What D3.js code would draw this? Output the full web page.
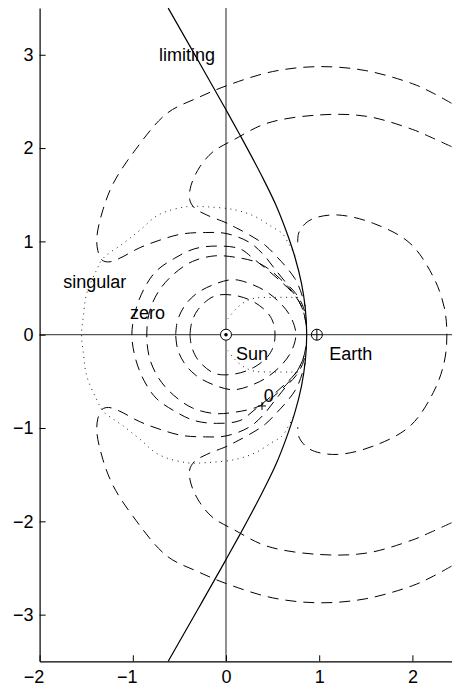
<!DOCTYPE html>
<html>
<head>
<meta charset="utf-8">
<script src="https://cdn.jsdelivr.net/npm/d3@7"></script>
<style>
  html, body { margin: 0; padding: 0; background: #fff; }
  svg { display: block; }
  text { font-family: "Liberation Sans", Arial, Helvetica, sans-serif; }
</style>
</head>
<body>
<svg id="chart" width="452" height="686"></svg>
<script>
// ---------------- data ----------------
const xTicks = [-2, -1, 0, 1, 2];
const yTicks = [-3, -2, -1, 0, 1, 2, 3];

// solid "limiting" curve
const limiting = [[-0.62,3.5],[-0.3,2.94],[0,2.41],[0.15,2.14],[0.40,1.67],[0.54,1.38],[0.65,1.10],[0.74,0.83],[0.81,0.55],[0.85,0.29],[0.866,0],
  [0.85,-0.29],[0.81,-0.55],[0.74,-0.83],[0.65,-1.10],[0.54,-1.38],[0.40,-1.67],[0.15,-2.14],[0,-2.41],[-0.3,-2.94],[-0.62,-3.5]];

// dotted "singular" curve
const singular = [[0.74,0.85],[0.67,0.98],[0.6,1.087],[0.49,1.157],[0.315,1.265],[0.1,1.337],[-0.2,1.37],[-0.42,1.372],[-0.726,1.283],[-0.923,1.12],[-1.10,0.98],[-1.317,0.82],[-1.39,0.69],[-1.495,0.44],[-1.53,0.2],[-1.55,0],
  [-1.53,-0.2],[-1.495,-0.44],[-1.39,-0.69],[-1.317,-0.82],[-1.10,-0.98],[-0.923,-1.12],[-0.726,-1.283],[-0.42,-1.372],[-0.2,-1.37],[0.1,-1.337],[0.315,-1.265],[0.49,-1.157],[0.6,-1.087],[0.67,-0.98],[0.74,-0.85]];

// inner dotted curves near the Sun
const innerDotUpper = [[0.02,0.17],[0.1,0.27],[0.2,0.35],[0.3,0.39],[0.5,0.4],[0.7,0.4],[0.82,0.4]];
const innerDotLower = [[0.02,-0.17],[0.1,-0.27],[0.2,-0.35],[0.3,-0.39],[0.5,-0.4],[0.7,-0.4],[0.82,-0.4]];

// dashed contours
const arcOuterUpper = [[2.42,2.48],[2.2,2.6],[2.0,2.69],[1.5,2.83],[1.0,2.873],[0.5,2.82],[0,2.666],[-0.3,2.54],[-0.636,2.37],[-1.0,1.944],[-1.21,1.62],[-1.32,1.34],[-1.385,1.05],[-1.375,0.9],[-1.33,0.8],[-1.26,0.78],[-1.15,0.815],[-0.93,0.93],[-0.72,1.01],[-0.475,1.079],[-0.217,1.095],[0,1.085],[0.25,0.99],[0.4,0.86],[0.52,0.71],[0.65,0.55],[0.75,0.44],[0.82,0.32],[0.86,0.18]];
const arcOuterLower = [[2.42,-2.48],[2.2,-2.6],[2.0,-2.69],[1.5,-2.83],[1.0,-2.873],[0.5,-2.82],[0,-2.666],[-0.3,-2.54],[-0.636,-2.37],[-1.0,-1.944],[-1.21,-1.62],[-1.32,-1.34],[-1.385,-1.05],[-1.375,-0.9],[-1.33,-0.8],[-1.26,-0.78],[-1.15,-0.815],[-0.93,-0.93],[-0.72,-1.01],[-0.475,-1.079],[-0.217,-1.095],[0,-1.085],[0.25,-0.99],[0.4,-0.86],[0.52,-0.71],[0.65,-0.55],[0.75,-0.44],[0.82,-0.32],[0.86,-0.18]];
const arcInnerUpper = [[2.42,2.015],[2.19,2.12],[2.0,2.2],[1.51,2.34],[1.0,2.355],[0.44,2.266],[0.08,2.087],[-0.14,1.96],[-0.28,1.80],[-0.375,1.6],[-0.39,1.45],[-0.34,1.36],[-0.207,1.283],[0,1.2],[0.1,1.15],[0.25,1.07],[0.42,0.96],[0.55,0.83],[0.65,0.72],[0.74,0.6],[0.8,0.47],[0.85,0.3]];
const arcInnerLower = [[2.42,-2.015],[2.19,-2.12],[2.0,-2.2],[1.51,-2.34],[1.0,-2.355],[0.44,-2.266],[0.08,-2.087],[-0.14,-1.96],[-0.28,-1.80],[-0.375,-1.6],[-0.39,-1.45],[-0.34,-1.36],[-0.207,-1.283],[0,-1.2],[0.1,-1.15],[0.25,-1.07],[0.42,-0.96],[0.55,-0.83],[0.65,-0.72],[0.74,-0.6],[0.8,-0.47],[0.85,-0.3]];
const curveB = [[0.86,0.12],[0.82,0.28],[0.74,0.42],[0.6,0.56],[0.45,0.69],[0.3,0.81],[0.15,0.92],[-0.1,0.95],[-0.34,0.92],[-0.55,0.82],[-0.75,0.68],[-0.88,0.49],[-0.97,0.26],[-1.01,0],
  [-0.97,-0.26],[-0.88,-0.49],[-0.75,-0.68],[-0.55,-0.82],[-0.34,-0.92],[-0.1,-0.95],[0.15,-0.92],[0.3,-0.81],[0.45,-0.69],[0.6,-0.56],[0.74,-0.42],[0.82,-0.28],[0.86,-0.12]];
const curveC = [[0.865,0.08],[0.83,0.25],[0.77,0.38],[0.68,0.5],[0.58,0.6],[0.45,0.71],[0.32,0.78],[0.1,0.83],[-0.12,0.845],[-0.36,0.785],[-0.56,0.65],[-0.72,0.47],[-0.82,0.25],[-0.85,0],
  [-0.82,-0.25],[-0.72,-0.47],[-0.56,-0.65],[-0.36,-0.785],[-0.12,-0.845],[0.1,-0.83],[0.32,-0.78],[0.45,-0.71],[0.58,-0.6],[0.68,-0.5],[0.77,-0.38],[0.83,-0.25],[0.865,-0.08]];
const loopD = [[-0.54,0],[-0.52,0.15],[-0.45,0.3],[-0.33,0.43],[-0.15,0.53],[0.08,0.59],[0.3,0.53],[0.45,0.45],[0.6,0.32],[0.7,0.18],[0.75,0],
  [0.7,-0.18],[0.6,-0.32],[0.45,-0.45],[0.3,-0.53],[0.08,-0.59],[-0.15,-0.53],[-0.33,-0.43],[-0.45,-0.3],[-0.52,-0.15],[-0.54,0]];
const loopE = [[-0.386,0],[-0.37,0.12],[-0.3,0.27],[-0.12,0.415],[0.1,0.42],[0.3,0.35],[0.45,0.23],[0.51,0.12],[0.526,0],
  [0.51,-0.12],[0.45,-0.23],[0.3,-0.35],[0.1,-0.42],[-0.12,-0.415],[-0.3,-0.27],[-0.37,-0.12],[-0.386,0]];
const earthLoop = [[0.77,0.99],[0.78,1.09],[0.85,1.19],[0.95,1.25],[1.2,1.283],[1.58,1.194],[1.974,0.98],[2.224,0.62],[2.34,0.3],[2.37,0],
  [2.34,-0.3],[2.224,-0.62],[1.974,-0.98],[1.58,-1.194],[1.2,-1.283],[0.95,-1.25],[0.85,-1.19],[0.78,-1.09],[0.77,-0.99]];

const dashedCurves = [arcOuterUpper, arcOuterLower, arcInnerUpper, arcInnerLower, curveB, curveC, loopD, loopE, earthLoop];
const dottedCurves = [singular, innerDotUpper, innerDotLower];

// annotations (data coordinates)
const labelTexts = ["limiting", "singular", "zero", "Sun", "Earth", "0"];
const labelX = [-0.719, -1.746, -1.03, 0.107, 1.108, 0.405];
const labelY = [2.934, 0.5, 0.168, -0.271, -0.271, -0.718];
const sunPos = [0, 0];
const earthPos = [0.975, 0];
const crossPos = [0.386, -0.764];

// ---------------- drawing ----------------
const svg = d3.select("#chart");
const x = d3.scaleLinear().domain([-2, 2.425]).range([39.6, 452]);
const y = d3.scaleLinear().domain([-3.5, 3.5]).range([661.3, 8.1]);

const line = d3.line().x(d => x(d[0])).y(d => y(d[1])).curve(d3.curveCatmullRom.alpha(0.5));
const smoothY = d3.line().x(d => x(d[0])).y(d => y(d[1])).curve(d3.curveMonotoneY);

// zero lines
svg.append("line").attr("x1", x(-2)).attr("x2", x(2.425)).attr("y1", y(0)).attr("y2", y(0))
  .attr("stroke", "#555").attr("stroke-width", 1.3);
svg.append("line").attr("x1", x(0)).attr("x2", x(0)).attr("y1", y(3.5)).attr("y2", y(-3.5))
  .attr("stroke", "#555").attr("stroke-width", 1.3);

// dashed contours
svg.append("g").selectAll("path").data(dashedCurves).join("path")
  .attr("d", line).attr("fill", "none").attr("stroke", "#000")
  .attr("stroke-width", 1).attr("stroke-dasharray", "11,7");

// dotted curves
svg.append("g").selectAll("path").data(dottedCurves).join("path")
  .attr("d", line).attr("fill", "none").attr("stroke", "#222")
  .attr("stroke-width", 1).attr("stroke-dasharray", "1,4.5");

// limiting curve
svg.append("path").datum(limiting).attr("d", smoothY).attr("fill", "none")
  .attr("stroke", "#000").attr("stroke-width", 1.2);

// axes
const font = "18px";
const fmt = d3.format("d");
const gx = svg.append("g").attr("transform", `translate(0,${y(-3.5)})`)
  .call(d3.axisBottom(x).tickValues(xTicks).tickFormat(fmt).tickSizeInner(-6).tickSizeOuter(0).tickPadding(9));
const gy = svg.append("g").attr("transform", `translate(${x(-2)},0)`)
  .call(d3.axisLeft(y).tickValues(yTicks).tickFormat(fmt).tickSizeInner(-6).tickSizeOuter(0).tickPadding(6));
[gx, gy].forEach(g => {
  g.select(".domain").attr("stroke", "#000").attr("stroke-width", 1.2);
  g.selectAll(".tick line").attr("stroke", "#000");
  g.selectAll(".tick text").attr("font-size", font).attr("fill", "#000")
    .style("font-family", '"Liberation Sans", Arial, sans-serif');
});
gx.selectAll(".tick text").attr("dx", d => d < 0 ? -6 : 0);

// Sun and Earth symbols
svg.append("circle").attr("cx", x(sunPos[0])).attr("cy", y(sunPos[1])).attr("r", 5.5)
  .attr("fill", "#fff").attr("stroke", "#000").attr("stroke-width", 1);
svg.append("circle").attr("cx", x(sunPos[0])).attr("cy", y(sunPos[1])).attr("r", 1.8).attr("fill", "#000");
svg.append("circle").attr("cx", x(earthPos[0])).attr("cy", y(earthPos[1])).attr("r", 5.5)
  .attr("fill", "#fff").attr("stroke", "#000").attr("stroke-width", 1);
svg.append("line").attr("x1", x(earthPos[0]) - 5.5).attr("x2", x(earthPos[0]) + 5.5)
  .attr("y1", y(earthPos[1])).attr("y2", y(earthPos[1])).attr("stroke", "#000");
svg.append("line").attr("x1", x(earthPos[0])).attr("x2", x(earthPos[0]))
  .attr("y1", y(earthPos[1]) - 5.5).attr("y2", y(earthPos[1]) + 5.5).attr("stroke", "#000");

// cross marker
svg.append("path")
  .attr("d", `M${x(crossPos[0]) - 4},${y(crossPos[1])}H${x(crossPos[0]) + 4}M${x(crossPos[0])},${y(crossPos[1]) - 4}V${y(crossPos[1]) + 4}`)
  .attr("stroke", "#000").attr("stroke-width", 1);

// labels
svg.append("g").selectAll("text").data(labelTexts).join("text")
  .attr("x", (d, i) => x(labelX[i])).attr("y", (d, i) => y(labelY[i]))
  .attr("font-size", font).attr("fill", "#000").text(d => d);
</script>
</body>
</html>
